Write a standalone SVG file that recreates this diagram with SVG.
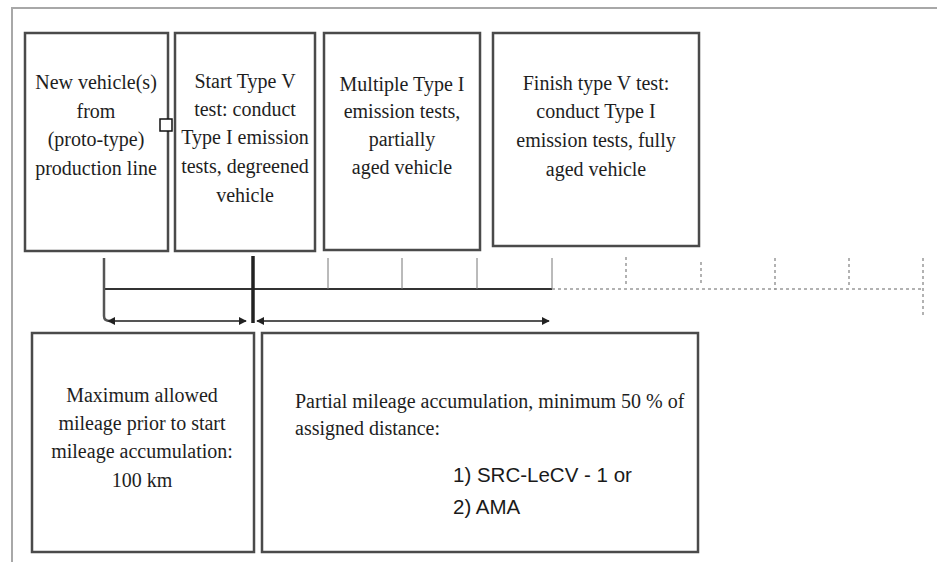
<svg xmlns="http://www.w3.org/2000/svg" width="937" height="562" viewBox="0 0 937 562">
  <defs>
    <marker id="ah" viewBox="0 0 10 10" refX="9" refY="5" markerWidth="4" markerHeight="4" orient="auto-start-reverse" markerUnits="strokeWidth">
      <path d="M0,0 L10,5 L0,10 z" fill="#222"/>
    </marker>
  </defs>
  <style>
    .box { fill: #ffffff; stroke: #4a4a4a; stroke-width: 2.5; }
    .t { font-family: "Liberation Serif", "Times New Roman", serif; font-size: 20px; fill: #1e1e1e; text-anchor: middle; }
    .tl { font-family: "Liberation Serif", "Times New Roman", serif; font-size: 20px; fill: #1e1e1e; }
    .s { font-family: "Liberation Sans", Arial, sans-serif; font-size: 20.5px; fill: #1a1a1a; }
    .frame { stroke: #a8a8a8; stroke-width: 2; fill: none; }
    .axis { stroke: #333; stroke-width: 2; fill: none; }
    .tick { stroke: #777; stroke-width: 1; fill: none; }
    .dot { stroke: #999; stroke-width: 1.5; stroke-dasharray: 3 3; fill: none; }
    .arr { stroke: #555; stroke-width: 2; fill: none; }
  </style>

  <rect width="937" height="562" fill="#ffffff"/>
  <g id="frame">
    <path class="frame" d="M12,562 L12,8 L937,8"/>
  </g>

  <g id="node-new-vehicle">
    <rect class="box" x="25" y="33" width="143" height="218"/>
    <text class="t" x="96" y="89">New vehicle(s)</text>
    <text class="t" x="96" y="118">from</text>
    <text class="t" x="96" y="146">(proto-type)</text>
    <text class="t" x="96" y="175">production line</text>
  </g>

  <g id="marker-square">
    <rect x="160" y="119" width="12" height="12" fill="#ffffff" stroke="#111" stroke-width="1.5"/>
  </g>

  <g id="node-start-type-v">
    <rect class="box" x="175" y="33" width="140" height="218"/>
    <text class="t" x="245" y="88">Start Type V</text>
    <text class="t" x="245" y="116">test: conduct</text>
    <text class="t" x="245" y="144">Type I emission</text>
    <text class="t" x="245" y="173">tests, degreened</text>
    <text class="t" x="245" y="202">vehicle</text>
  </g>

  <g id="node-multiple-type-i">
    <rect class="box" x="324" y="33" width="156" height="217"/>
    <text class="t" x="402" y="91">Multiple Type I</text>
    <text class="t" x="402" y="118">emission tests,</text>
    <text class="t" x="402" y="146">partially</text>
    <text class="t" x="402" y="174">aged vehicle</text>
  </g>

  <g id="node-finish-type-v">
    <rect class="box" x="493" y="33" width="206" height="213"/>
    <text class="t" x="596" y="90">Finish type V test:</text>
    <text class="t" x="596" y="118">conduct Type I</text>
    <text class="t" x="596" y="147">emission tests, fully</text>
    <text class="t" x="596" y="176">aged vehicle</text>
  </g>

  <g id="node-max-mileage">
    <rect class="box" x="32" y="333" width="222" height="219"/>
    <text class="t" x="142" y="402">Maximum allowed</text>
    <text class="t" x="142" y="430">mileage prior to start</text>
    <text class="t" x="142" y="458">mileage accumulation:</text>
    <text class="t" x="142" y="487">100 km</text>
  </g>

  <g id="node-partial-mileage">
    <rect class="box" x="262" y="333" width="436" height="219"/>
    <text class="tl" x="295" y="408">Partial mileage accumulation, minimum 50 % of</text>
    <text class="tl" x="295" y="435">assigned distance:</text>
    <text class="s" x="453" y="482">1) SRC-LeCV - 1 or</text>
    <text class="s" x="453" y="514">2) AMA</text>
  </g>

  <g id="connectors">
    <!-- timeline solid -->
    <path class="axis" d="M104,289 L552,289"/>
    <path class="tick" d="M328,258 L328,289 M402,258 L402,289 M477,258 L477,289 M552,258 L552,289"/>
    <!-- timeline dotted -->
    <path class="dot" d="M552,289 L923,289"/>
    <path class="dot" d="M626,257 L626,286 M701,262 L701,286 M775,258 L775,290 M849,258 L849,286 M923,258 L923,318"/>
    <!-- vertical from first box -->
    <path d="M104,258 L104,316 Q104,321 110,321" stroke="#555" stroke-width="2.5" fill="none"/>
    <!-- thick vertical -->
    <path d="M253,256 L253,323" stroke="#222" stroke-width="3.5" fill="none"/>
    <!-- arrows -->
    <path class="arr" d="M108,321 L246,321" marker-start="url(#ah)" marker-end="url(#ah)"/>
    <path class="arr" d="M257,321 L549,321" marker-start="url(#ah)" marker-end="url(#ah)"/>
  </g>
</svg>
